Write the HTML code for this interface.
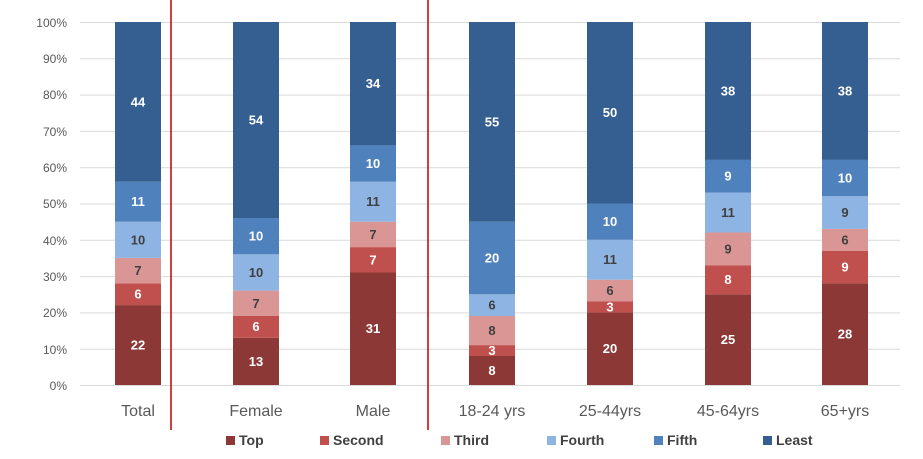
<!DOCTYPE html>
<html><head><meta charset="utf-8"><style>body{margin:0;background:#fff}svg{display:block}text{font-family:"Liberation Sans",sans-serif}</style></head><body>
<svg width="923" height="459" viewBox="0 0 923 459">
<g stroke="#d9d9d9" stroke-width="1">
<line x1="80" x2="900" y1="385.5" y2="385.5"/><line x1="80" x2="900" y1="349.2" y2="349.2"/><line x1="80" x2="900" y1="312.9" y2="312.9"/><line x1="80" x2="900" y1="276.6" y2="276.6"/><line x1="80" x2="900" y1="240.3" y2="240.3"/><line x1="80" x2="900" y1="204" y2="204"/><line x1="80" x2="900" y1="167.7" y2="167.7"/><line x1="80" x2="900" y1="131.4" y2="131.4"/><line x1="80" x2="900" y1="95.1" y2="95.1"/><line x1="80" x2="900" y1="58.8" y2="58.8"/><line x1="80" x2="900" y1="22.5" y2="22.5"/>
</g>
<g font-size="12" fill="#595959" text-anchor="end">
<text x="67" y="390">0%</text><text x="67" y="354">10%</text><text x="67" y="317">20%</text><text x="67" y="281">30%</text><text x="67" y="245">40%</text><text x="67" y="208">50%</text><text x="67" y="172">60%</text><text x="67" y="136">70%</text><text x="67" y="99">80%</text><text x="67" y="63">90%</text><text x="67" y="27">100%</text>
</g>
<!-- Total -->
<rect x="115" y="305.1" width="46" height="79.9" fill="#8C3836"/>
<rect x="115" y="283.4" width="46" height="21.7" fill="#C0504D"/>
<rect x="115" y="257.9" width="46" height="25.5" fill="#D99694"/>
<rect x="115" y="221.7" width="46" height="36.2" fill="#8EB4E3"/>
<rect x="115" y="181.7" width="46" height="40" fill="#4F81BD"/>
<rect x="115" y="22" width="46" height="159.7" fill="#355F91"/>
<!-- Female -->
<rect x="233" y="337.8" width="46" height="47.2" fill="#8C3836"/>
<rect x="233" y="316" width="46" height="21.8" fill="#C0504D"/>
<rect x="233" y="290.6" width="46" height="25.4" fill="#D99694"/>
<rect x="233" y="254.3" width="46" height="36.3" fill="#8EB4E3"/>
<rect x="233" y="218" width="46" height="36.3" fill="#4F81BD"/>
<rect x="233" y="22" width="46" height="196" fill="#355F91"/>
<!-- Male -->
<rect x="350" y="272.5" width="46" height="112.5" fill="#8C3836"/>
<rect x="350" y="247.1" width="46" height="25.4" fill="#C0504D"/>
<rect x="350" y="221.7" width="46" height="25.4" fill="#D99694"/>
<rect x="350" y="181.7" width="46" height="40" fill="#8EB4E3"/>
<rect x="350" y="145.4" width="46" height="36.3" fill="#4F81BD"/>
<rect x="350" y="22" width="46" height="123.4" fill="#355F91"/>
<!-- 18-24 -->
<rect x="469" y="356" width="46" height="29" fill="#8C3836"/>
<rect x="469" y="345.1" width="46" height="10.9" fill="#C0504D"/>
<rect x="469" y="316" width="46" height="29.1" fill="#D99694"/>
<rect x="469" y="294.3" width="46" height="21.7" fill="#8EB4E3"/>
<rect x="469" y="221.7" width="46" height="72.6" fill="#4F81BD"/>
<rect x="469" y="22" width="46" height="199.7" fill="#355F91"/>
<!-- 25-44 -->
<rect x="587" y="312.4" width="46" height="72.6" fill="#8C3836"/>
<rect x="587" y="301.5" width="46" height="10.9" fill="#C0504D"/>
<rect x="587" y="279.7" width="46" height="21.8" fill="#D99694"/>
<rect x="587" y="239.8" width="46" height="39.9" fill="#8EB4E3"/>
<rect x="587" y="203.5" width="46" height="36.3" fill="#4F81BD"/>
<rect x="587" y="22" width="46" height="181.5" fill="#355F91"/>
<!-- 45-64 -->
<rect x="705" y="294.3" width="46" height="90.7" fill="#8C3836"/>
<rect x="705" y="265.2" width="46" height="29.1" fill="#C0504D"/>
<rect x="705" y="232.5" width="46" height="32.7" fill="#D99694"/>
<rect x="705" y="192.6" width="46" height="39.9" fill="#8EB4E3"/>
<rect x="705" y="159.9" width="46" height="32.7" fill="#4F81BD"/>
<rect x="705" y="22" width="46" height="137.9" fill="#355F91"/>
<!-- 65+ -->
<rect x="822" y="283.4" width="46" height="101.6" fill="#8C3836"/>
<rect x="822" y="250.7" width="46" height="32.7" fill="#C0504D"/>
<rect x="822" y="228.9" width="46" height="21.8" fill="#D99694"/>
<rect x="822" y="196.2" width="46" height="32.7" fill="#8EB4E3"/>
<rect x="822" y="159.9" width="46" height="36.3" fill="#4F81BD"/>
<rect x="822" y="22" width="46" height="137.9" fill="#355F91"/>
<g stroke="#C00000" stroke-width="1.5"><line x1="171" x2="171" y1="0" y2="430"/><line x1="428" x2="428" y1="0" y2="430"/></g>
<g font-size="13" font-weight="bold" text-anchor="middle" fill="#fff">
<text x="138" y="349.5">22</text><text x="138" y="298.7">6</text><text x="138" y="106.5">44</text><text x="138" y="206.2">11</text>
<text x="256" y="366">13</text><text x="256" y="331.2">6</text><text x="256" y="240.6">10</text><text x="256" y="124.5">54</text>
<text x="373" y="333.2">31</text><text x="373" y="264.3">7</text><text x="373" y="168">10</text><text x="373" y="88.2">34</text>
<text x="492" y="375">8</text><text x="492" y="355">3</text><text x="492" y="262.5">20</text><text x="492" y="126.3">55</text>
<text x="610" y="353.2">20</text><text x="610" y="311.5">3</text><text x="610" y="226.1">10</text><text x="610" y="117.2">50</text>
<text x="728" y="344.1">25</text><text x="728" y="284.2">8</text><text x="728" y="180.7">9</text><text x="728" y="95.4">38</text>
<text x="845" y="338.7">28</text><text x="845" y="271.5">9</text><text x="845" y="182.5">10</text><text x="845" y="95.4">38</text>
</g>
<g font-size="13" font-weight="bold" text-anchor="middle" fill="#404040">
<text x="138" y="275.1">7</text><text x="138" y="244.3">10</text>
<text x="256" y="307.8">7</text><text x="256" y="276.9">10</text>
<text x="373" y="238.9">7</text><text x="373" y="206.2">11</text>
<text x="492" y="335">8</text><text x="492" y="309.6">6</text>
<text x="610" y="295.1">6</text><text x="610" y="264.2">11</text>
<text x="728" y="253.3">9</text><text x="728" y="217">11</text>
<text x="845" y="244.3">6</text><text x="845" y="217">9</text>
</g>
<g font-size="16" fill="#595959" text-anchor="middle">
<text x="138" y="416">Total</text><text x="256" y="416">Female</text><text x="373" y="416">Male</text><text x="492" y="416">18-24 yrs</text><text x="610" y="416">25-44yrs</text><text x="728" y="416">45-64yrs</text><text x="845" y="416">65+yrs</text>
</g>
<g font-size="14" font-weight="bold" fill="#404040">
<rect x="226" y="436" width="9" height="9" fill="#8C3836"/><text x="239" y="445">Top</text>
<rect x="320" y="436" width="9" height="9" fill="#C0504D"/><text x="333" y="445">Second</text>
<rect x="441" y="436" width="9" height="9" fill="#D99694"/><text x="454" y="445">Third</text>
<rect x="547" y="436" width="9" height="9" fill="#8EB4E3"/><text x="560" y="445">Fourth</text>
<rect x="654" y="436" width="9" height="9" fill="#4F81BD"/><text x="667" y="445">Fifth</text>
<rect x="763" y="436" width="9" height="9" fill="#355F91"/><text x="776" y="445">Least</text>
</g>
</svg>
</body></html>
